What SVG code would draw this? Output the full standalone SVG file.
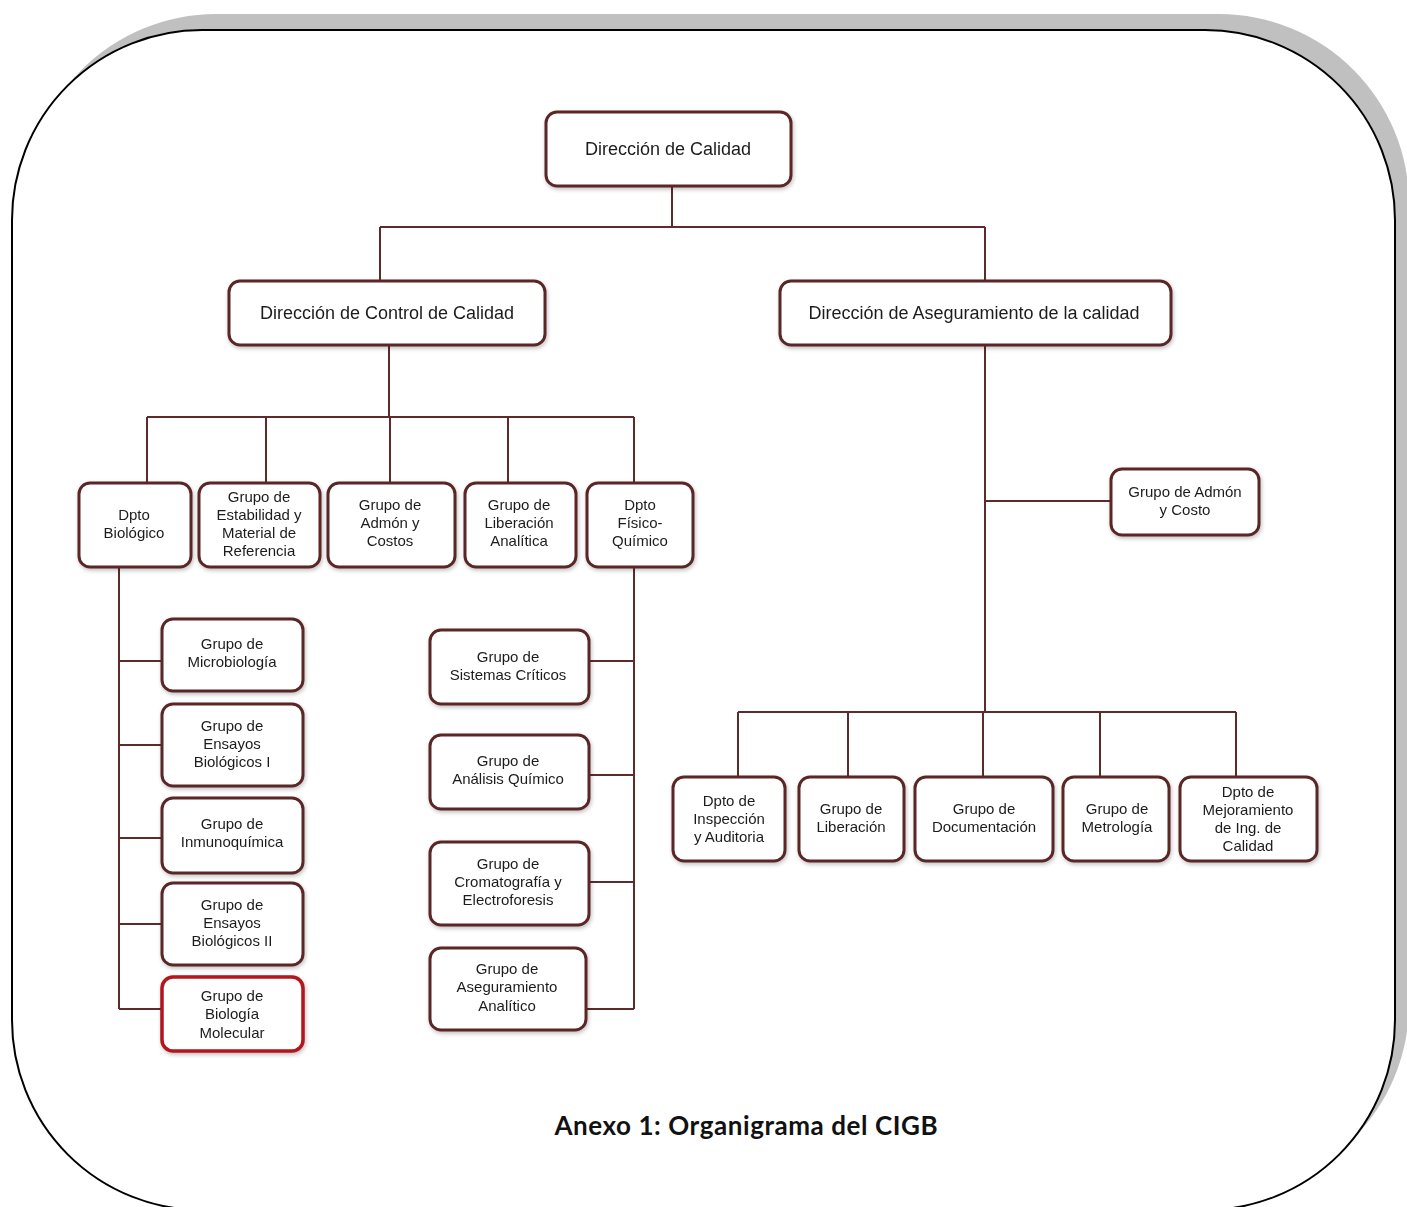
<svg xmlns="http://www.w3.org/2000/svg" width="1407" height="1207" viewBox="0 0 1407 1207">
<style>
.box{fill:#ffffff;stroke:#5a2626;stroke-width:3}
.red{fill:#ffffff;stroke:#b3151b;stroke-width:3.5}
.t{font-family:"Liberation Sans",Arial,sans-serif;font-size:15px;fill:#1c1c1c;text-anchor:middle}
.h{font-family:"Liberation Sans",Arial,sans-serif;font-size:18px;fill:#1c1c1c;text-anchor:middle}
.ln{fill:none;stroke:#5e2a2a;stroke-width:2}
.cap{font-family:Lato,"Liberation Sans",sans-serif;font-size:26px;font-weight:bold;fill:#111;text-anchor:middle}
</style>
<defs>
<filter id="sh" x="-10%" y="-10%" width="130%" height="130%">
<feGaussianBlur in="SourceAlpha" stdDeviation="2"/>
<feOffset dx="1" dy="2" result="o"/>
<feComponentTransfer><feFuncA type="linear" slope="0.25"/></feComponentTransfer>
<feMerge><feMergeNode/><feMergeNode in="SourceGraphic"/></feMerge>
</filter>
</defs>
<rect width="1407" height="1207" fill="#ffffff"/>
<g id="frame">
<rect x="26" y="14" width="1383" height="1180" rx="190" ry="190" fill="#c0c0c0"/>
<rect x="12" y="30" width="1383" height="1180" rx="190" ry="190" fill="#ffffff" stroke="#000" stroke-width="2"/>
</g>
<g id="connectors">
<path class="ln" d="M672 186V227M380 227H985M380 227V281M985 227V281"/>
<path class="ln" d="M389 345V417M147 417H634M147 417V483M266 417V483M390 417V483M508 417V483M634 417V483"/>
<path class="ln" d="M119 567V1009M119 661H162M119 745H162M119 838H162M119 924H162M119 1009H162"/>
<path class="ln" d="M634 567V1009M589 661H634M589 775H634M589 882H634M586 1009H634"/>
<path class="ln" d="M985 345V712M985 501H1111M738 712H1236M738 712V777M848 712V777M983 712V777M1100 712V777M1236 712V777"/>
</g>
<g id="n-calidad" filter="url(#sh)"><rect class="box" x="546" y="112" width="245" height="74" rx="11"/><text class="h" x="668" y="155">Dirección de Calidad</text></g>
<g id="n-control" filter="url(#sh)"><rect class="box" x="229" y="281" width="316" height="64" rx="11"/><text class="h" x="387" y="319">Dirección de Control de Calidad</text></g>
<g id="n-aseg" filter="url(#sh)"><rect class="box" x="780" y="281" width="391" height="64" rx="11"/><text class="h" x="974" y="319">Dirección de Aseguramiento  de la calidad</text></g>

<g id="n-biologico" filter="url(#sh)"><rect class="box" x="79" y="483" width="112" height="84" rx="11"/><text class="t" x="134" y="520">Dpto</text><text class="t" x="134" y="538">Biológico</text></g>
<g id="n-estab" filter="url(#sh)"><rect class="box" x="199" y="483" width="121" height="84" rx="11"/><text class="t" x="259" y="502">Grupo de</text><text class="t" x="259" y="520">Estabilidad y</text><text class="t" x="259" y="538">Material de</text><text class="t" x="259" y="556">Referencia</text></g>
<g id="n-admon" filter="url(#sh)"><rect class="box" x="328" y="483" width="127" height="84" rx="11"/><text class="t" x="390" y="510">Grupo de</text><text class="t" x="390" y="528">Admón y</text><text class="t" x="390" y="546">Costos</text></g>
<g id="n-libanal" filter="url(#sh)"><rect class="box" x="465" y="483" width="111" height="84" rx="11"/><text class="t" x="519" y="510">Grupo de</text><text class="t" x="519" y="528">Liberación</text><text class="t" x="519" y="546">Analítica</text></g>
<g id="n-fisico" filter="url(#sh)"><rect class="box" x="587" y="483" width="106" height="84" rx="11"/><text class="t" x="640" y="510">Dpto</text><text class="t" x="640" y="528">Físico-</text><text class="t" x="640" y="546">Químico</text></g>

<g id="n-micro" filter="url(#sh)"><rect class="box" x="162" y="619" width="141" height="72" rx="11"/><text class="t" x="232" y="649">Grupo de</text><text class="t" x="232" y="667">Microbiología</text></g>
<g id="n-ens1" filter="url(#sh)"><rect class="box" x="162" y="704" width="141" height="82" rx="11"/><text class="t" x="232" y="731">Grupo de</text><text class="t" x="232" y="749">Ensayos</text><text class="t" x="232" y="767">Biológicos I</text></g>
<g id="n-inmuno" filter="url(#sh)"><rect class="box" x="162" y="798" width="141" height="75" rx="11"/><text class="t" x="232" y="829">Grupo de</text><text class="t" x="232" y="847">Inmunoquímica</text></g>
<g id="n-ens2" filter="url(#sh)"><rect class="box" x="162" y="883" width="141" height="82" rx="11"/><text class="t" x="232" y="910">Grupo de</text><text class="t" x="232" y="928">Ensayos</text><text class="t" x="232" y="946">Biológicos II</text></g>
<g id="n-biomol" filter="url(#sh)"><rect class="red" x="162" y="977" width="141" height="74" rx="11"/><text class="t" x="232" y="1001">Grupo de</text><text class="t" x="232" y="1019">Biología</text><text class="t" x="232" y="1038">Molecular</text></g>

<g id="n-sist" filter="url(#sh)"><rect class="box" x="430" y="630" width="159" height="74" rx="11"/><text class="t" x="508" y="662">Grupo de</text><text class="t" x="508" y="680">Sistemas Críticos</text></g>
<g id="n-quim" filter="url(#sh)"><rect class="box" x="430" y="735" width="159" height="74" rx="11"/><text class="t" x="508" y="766">Grupo de</text><text class="t" x="508" y="784">Análisis Químico</text></g>
<g id="n-croma" filter="url(#sh)"><rect class="box" x="430" y="842" width="159" height="83" rx="11"/><text class="t" x="508" y="869">Grupo de</text><text class="t" x="508" y="887">Cromatografía y</text><text class="t" x="508" y="905">Electroforesis</text></g>
<g id="n-asegan" filter="url(#sh)"><rect class="box" x="430" y="948" width="156" height="82" rx="11"/><text class="t" x="507" y="974">Grupo de</text><text class="t" x="507" y="992">Aseguramiento</text><text class="t" x="507" y="1011">Analítico</text></g>

<g id="n-admcosto" filter="url(#sh)"><rect class="box" x="1111" y="469" width="148" height="66" rx="11"/><text class="t" x="1185" y="497">Grupo de Admón</text><text class="t" x="1185" y="515">y Costo</text></g>

<g id="n-insp" filter="url(#sh)"><rect class="box" x="673" y="777" width="112" height="84" rx="11"/><text class="t" x="729" y="806">Dpto de</text><text class="t" x="729" y="824">Inspección</text><text class="t" x="729" y="842">y Auditoria</text></g>
<g id="n-lib" filter="url(#sh)"><rect class="box" x="799" y="777" width="105" height="84" rx="11"/><text class="t" x="851" y="814">Grupo de</text><text class="t" x="851" y="832">Liberación</text></g>
<g id="n-doc" filter="url(#sh)"><rect class="box" x="915" y="777" width="138" height="84" rx="11"/><text class="t" x="984" y="814">Grupo de</text><text class="t" x="984" y="832">Documentación</text></g>
<g id="n-metro" filter="url(#sh)"><rect class="box" x="1063" y="777" width="106" height="84" rx="11"/><text class="t" x="1117" y="814">Grupo de</text><text class="t" x="1117" y="832">Metrología</text></g>
<g id="n-mejor" filter="url(#sh)"><rect class="box" x="1180" y="777" width="137" height="84" rx="11"/><text class="t" x="1248" y="797">Dpto de</text><text class="t" x="1248" y="815">Mejoramiento</text><text class="t" x="1248" y="833">de Ing. de</text><text class="t" x="1248" y="851">Calidad</text></g>

<text class="cap" x="746" y="1135" textLength="383" lengthAdjust="spacing">Anexo 1: Organigrama del CIGB</text>
</svg>
